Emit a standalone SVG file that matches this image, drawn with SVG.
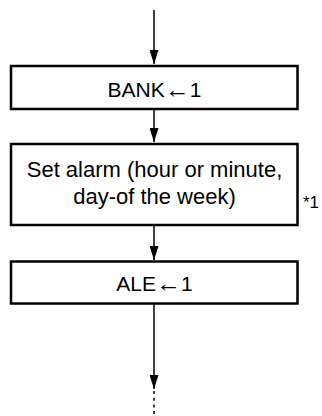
<svg xmlns="http://www.w3.org/2000/svg" width="322" height="416" viewBox="0 0 322 416">
<style>
.box{fill:#fff;stroke:#000;stroke-width:2.5}
.t{font-family:"Liberation Sans",Arial,sans-serif;font-size:21px;fill:#000;text-anchor:middle}
.t2{font-size:22px}
.ar{font-size:25px}
.c{stroke:#000;stroke-width:1.5;fill:none}
</style>
<defs>
<marker id="ah" markerWidth="14" markerHeight="9" refX="14" refY="4.5" orient="auto" markerUnits="userSpaceOnUse" viewBox="0 0 14 9">
<path d="M0,0 L14,4.5 L0,9 Z" fill="#000"/>
</marker>
</defs>
<rect width="322" height="416" fill="#fff"/>
<g id="connectors">
<line class="c" x1="154" y1="10" x2="154" y2="64" marker-end="url(#ah)"/>
<line class="c" x1="154" y1="109" x2="154" y2="142" marker-end="url(#ah)"/>
<line class="c" x1="154" y1="225" x2="154" y2="260" marker-end="url(#ah)"/>
<line class="c" x1="154" y1="303" x2="154" y2="389" marker-end="url(#ah)"/>
<line class="c" x1="154" y1="391" x2="154" y2="416" stroke-dasharray="3,3.7"/>
</g>
<g id="bank">
<rect class="box" x="11" y="66" width="286.5" height="43"/>
<text class="t" x="154.5" y="97">BANK<tspan class="ar" baseline-shift="-1">←</tspan>1</text>
</g>
<g id="setalarm">
<rect class="box" x="11" y="144" width="286.5" height="81"/>
<text class="t t2" x="154.5" y="177">Set alarm (hour or minute,</text>
<text class="t t2" x="154.5" y="204">day-of the week)</text>
</g>
<g id="note">
<text x="303" y="208" font-family="Liberation Sans,Arial,sans-serif" font-size="17" fill="#000">*1</text>
</g>
<g id="ale">
<rect class="box" x="11" y="261.5" width="286.5" height="42"/>
<text class="t" x="154.5" y="291">ALE<tspan class="ar" baseline-shift="-1">←</tspan>1</text>
</g>
</svg>
